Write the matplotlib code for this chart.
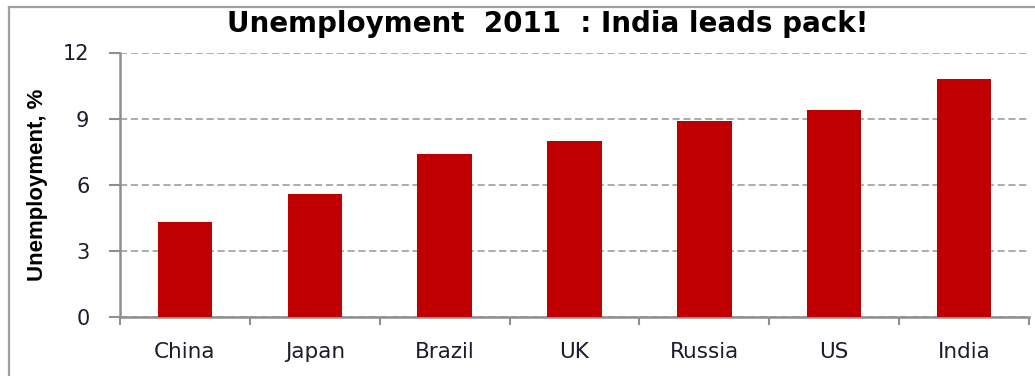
import matplotlib
matplotlib.use("Agg")
import matplotlib.pyplot as plt
from matplotlib.lines import Line2D

# Unemployment rate by country, 2011 (%)
countries = ["China", "Japan", "Brazil", "UK", "Russia", "US", "India"]
unemployment = [4.3, 5.6, 7.4, 8.0, 8.9, 9.4, 10.8]
y_ticks = [0, 3, 6, 9, 12]

W, H = 1035, 376
fig = plt.figure(figsize=(W / 100, H / 100), dpi=100)
fig.patch.set_facecolor("white")

# plot area in pixel terms
left, right, top, bottom = 120, 1029, 52.5, 317
ax = fig.add_axes([left / W, 1 - bottom / H, (right - left) / W, (bottom - top) / H])

x = range(len(countries))
ax.bar(x, unemployment, width=0.42, color="#C00000", zorder=3)

ax.set_xlim(-0.5, len(countries) - 0.5)
ax.set_ylim(0, 12)
ax.set_yticks(y_ticks)
ax.set_yticklabels([str(v) for v in y_ticks])

# category boundary ticks on the x axis, labels centred between them
ax.set_xticks([i - 0.5 for i in range(len(countries) + 1)])
ax.set_xticklabels([])
ax.set_xticks(list(x), minor=True)
ax.set_xticklabels(countries, minor=True)
ax.tick_params(axis="x", which="minor", length=0, pad=18)
ax.tick_params(axis="x", which="major", length=6, width=1.5, color="#8f8f8f", direction="out")
ax.tick_params(axis="y", length=8, width=1.5, color="#8f8f8f", direction="out", pad=14)

label_family = "DejaVu Sans"
label_color = "#1c1c30"
for t in ax.get_xticklabels(minor=True):
    t.set_fontfamily(label_family); t.set_fontsize(15.5); t.set_color(label_color)
for t in ax.get_yticklabels():
    t.set_fontfamily(label_family); t.set_fontsize(15); t.set_color(label_color)

ax.yaxis.grid(True, color="#a6a6a6", linewidth=1.3, linestyle=(0, (4, 2)), zorder=0)
ax.set_axisbelow(True)

for side in ("top", "right"):
    ax.spines[side].set_visible(False)
for side in ("left", "bottom"):
    ax.spines[side].set_color("#8f8f8f")
    ax.spines[side].set_linewidth(1.8)

ax.set_ylabel("Unemployment, %",
              family=["Liberation Sans Narrow", "DejaVu Sans Condensed", "Liberation Sans"],
              fontweight="bold", fontsize=16, color="black", labelpad=11)

fig.text(548 / W, 1 - 24 / H, "Unemployment  2011  : India leads pack!",
         ha="center", va="center", family="DejaVu Sans", fontweight="bold",
         fontsize=20, color="black")

# chart area border (top and left edges)
fig.add_artist(Line2D([9 / W, 9 / W], [0, 1 - 7 / H], transform=fig.transFigure,
                      color="#a0a0a0", linewidth=1.6))
fig.add_artist(Line2D([9 / W, 1], [1 - 7 / H, 1 - 7 / H], transform=fig.transFigure,
                      color="#a0a0a0", linewidth=1.6))

fig.savefig("out.png", dpi=100, facecolor="white")
